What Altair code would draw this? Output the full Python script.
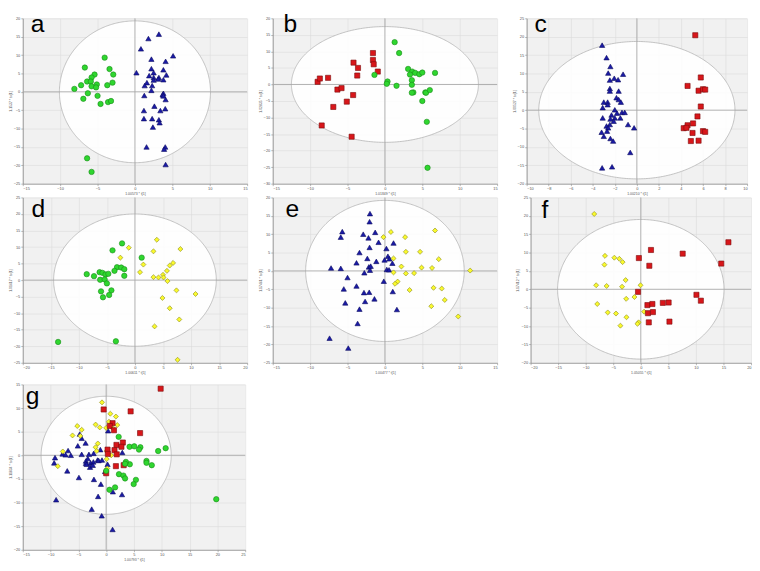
import altair as alt
import pandas as pd
import numpy as np

# ---------------- panel a ----------------
a_green_x = [-4.05, -6.7, -3.4, -5.4, -2.9, -5.8, -6.4, -5.9, -7.2, -5.1, -5.8, -5.2, -3.7, -3.0, -8.1, -6.3, -5.0, -6.9, -4.6, -3.6, -3.2, -6.4, -5.8]
a_green_y = [9.3, 6.6, 6.2, 4.7, 4.7, 3.9, 2.8, 2.8, 1.8, 2.0, 1.5, 1.2, 1.8, 2.5, 0.8, -0.4, -1.1, -1.9, -3.3, -2.8, -2.5, -18.1, -21.8]
a_blue_x = [3.2, 1.8, 0.8, 5.1, 2.2, 4.1, 2.2, 3.8, 0.2, 1.9, 2.5, 4.2, 2.5, 3.2, 3.1, 2.5, 3.8, 1.6, 1.3, 2.3, 2.2, 3.8, 3.7, 1.25, 3.8, 4.1, 2.6, 4.05, 1.2, 3.4, 1.2, 2.3, 3.2, 3.3, 2.4, 1.55, 4.05, 3.9, 4.1]
a_blue_y = [15.7, 14.5, 11.7, 9.8, 8.9, 8.3, 6.3, 6.0, 5.2, 4.4, 5.2, 4.6, 3.9, 3.9, 3.5, 3.2, 3.3, 2.5, 1.7, 1.7, 0.4, -0.4, -0.8, -1.0, -1.1, -2.1, -3.9, -4.6, -5.1, -5.1, -7.3, -7.3, -7.6, -8.4, -9.6, -15.0, -15.0, -15.6, -19.8]

# ---------------- panel b ----------------
b_red_x = [-9.0, -8.7, -7.6, -6.35, -5.8, -6.9, -8.45, -5.1, -4.25, -4.2, -3.6, -3.7, -1.6, -1.6, -1.5, -0.95, -4.45]
b_red_y = [0.8, 1.8, 2.0, -1.55, -1.1, -6.8, -12.4, -5.2, -3.2, 6.6, 5.0, 2.7, 9.5, 7.4, 6.1, 3.9, -15.8]
b_green_x = [1.3, 1.9, -1.4, 0.35, 0.25, 1.55, 3.1, 3.65, 3.35, 4.05, 4.6, 5.0, 6.7, 3.6, 3.6, 3.8, 3.6, 5.4, 5.5, 6.0, 5.0, 5.6, 5.7]
b_green_y = [12.8, 9.5, 2.9, 0.9, 0.2, -0.4, 4.7, 3.9, 3.0, 3.5, 3.1, 3.6, 3.5, 1.3, -0.1, -2.4, -2.5, -2.4, -2.5, -1.7, -5.0, -11.3, -25.2]

# ---------------- panel c ----------------
c_red_x = [5.3, 5.8, 4.6, 5.6, 6.0, 6.2, 5.8, 5.5, 5.1, 4.6, 4.25, 4.5, 5.05, 6.0, 6.2, 4.9, 5.6]
c_red_y = [20.4, 8.9, 6.6, 5.3, 5.7, 5.6, 1.0, -1.7, -3.6, -4.1, -4.9, -4.8, -6.2, -5.7, -5.9, -8.4, -8.3]
c_blue_x = [-3.15, -2.75, -2.4, -2.6, -1.25, -2.05, -1.7, -2.45, -2.45, -2.45, -1.65, -3.0, -2.65, -2.65, -3.1, -1.85, -1.65, -1.45, -2.0, -1.8, -1.35, -1.1, -2.3, -3.1, -1.5, -2.4, -2.0, -2.1, -2.45, -2.75, -2.6, -0.8, -0.25, -3.2, -2.7, -3.0, -2.4, -2.15, -0.6, -3.15, -2.25]
c_blue_y = [17.7, 14.3, 11.9, 10.1, 9.8, 8.7, 8.3, 8.2, 5.9, 5.2, 5.2, 2.2, 2.2, 1.5, 0.7, 3.4, 2.9, 2.2, 0.1, -0.8, -0.6, -0.6, -1.3, -2.1, -2.1, -2.4, -2.1, -3.0, -3.9, -4.3, -4.8, -3.9, -4.8, -6.0, -5.7, -7.1, -7.7, -8.4, -11.5, -15.7, -15.4]

# ---------------- panel d ----------------
d_green_x = [-2.3, -4.0, 1.2, -3.2, -2.45, -1.9, -3.65, -8.6, -7.3, -6.3, -5.8, -5.25, -4.75, -6.2, -5.4, -5.0, -1.9, -6.05, -4.2, -4.6, -5.7, -13.7, -3.4]
d_green_y = [11.1, 9.0, 6.8, 3.9, 3.8, 3.3, 2.8, 1.8, 1.2, 2.4, 2.2, 1.7, 1.9, 0.1, 0.2, -1.0, 1.3, -3.4, -3.1, -4.5, -5.2, -18.7, -18.5]
d_yellow_x = [3.9, -1.1, 3.3, 8.1, -2.6, 1.5, 6.8, 6.2, 0.9, 5.7, 3.3, 4.2, 5.0, 5.1, 5.8, 7.4, 10.8, 4.9, 6.2, 7.9, 3.5, 7.6]
d_yellow_y = [12.2, 9.8, 8.7, 9.4, 6.8, 4.7, 5.2, 4.4, 2.4, 2.8, 0.9, 0.8, 1.6, 0.8, -0.3, -3.1, -4.2, -5.4, -8.5, -11.9, -14.0, -24.1]

# ---------------- panel e ----------------
e_blue_x = [-2.0, -2.05, -5.7, -5.9, -2.9, -1.3, -2.2, -0.85, 1.15, -2.05, -3.4, 0.2, 0.4, 0.6, -0.05, -2.35, -1.15, -3.8, 1.0, -2.15, -1.9, -2.0, 0.25, 0.55, -7.2, -5.9, -2.75, -5.0, -0.15, -3.8, -5.5, -2.8, -2.1, 1.05, -1.4, -2.65, -5.3, -3.4, 1.6, -3.65, -7.4, -4.9]
e_blue_y = [15.6, 13.4, 10.7, 9.2, 10.0, 10.5, 9.0, 7.8, 7.6, 6.4, 5.0, 6.1, 4.0, 3.3, 3.0, 3.4, 2.6, 2.2, 2.1, 1.1, 1.3, 0.2, 0.4, 0.3, 0.8, 0.7, -0.5, -1.8, -2.8, -4.1, -4.9, -5.9, -5.8, -5.6, -7.6, -8.3, -8.7, -10.4, -10.5, -14.3, -18.3, -21.0]
e_yellow_x = [-0.2, 0.8, 2.7, 6.7, 2.8, 1.15, 4.7, 7.2, 2.2, 4.9, 6.3, 11.4, 1.15, 2.8, 3.9, 1.7, 1.35, 3.3, 6.5, 7.6, 8.0, 6.2, 9.8]
e_yellow_y = [9.2, 10.6, 9.2, 11.0, 5.2, 3.4, 5.2, 3.2, 1.2, 0.9, 0.8, 0.1, -0.4, -0.7, -0.6, -2.9, -3.5, -5.2, -4.6, -4.8, -7.9, -9.6, -12.4]

# ---------------- panel f ----------------
f_yellow_x = [-8.45, -6.5, -4.8, -3.9, -3.3, -6.6, -2.75, -8.1, -6.2, -3.4, -0.05, -2.65, -1.15, -7.9, -6.0, -4.5, -2.6, 0.6, -3.7, -0.4, -0.6]
f_yellow_y = [20.5, 9.1, 8.6, 8.3, 7.4, 6.7, 2.5, 1.1, 0.9, 0.7, 1.1, -2.6, -2.1, -4.0, -6.3, -6.6, -7.6, -6.1, -9.9, -9.0, -9.4]
f_red_x = [1.85, 7.6, 15.9, 14.6, -0.35, 1.55, -0.5, 10.1, 10.9, 1.2, 2.1, 4.0, 5.05, 1.3, 2.2, 1.45, 5.2]
f_red_y = [10.7, 9.7, 12.8, 7.0, 8.5, 6.4, -0.7, -1.5, -3.1, -4.3, -4.0, -3.7, -3.6, -6.5, -6.2, -9.0, -8.8]

# ---------------- panel g ----------------
g_red_x = [9.8, -0.45, 4.4, 1.15, 0.65, 1.4, 6.1, 1.85, 3.0, 2.75, 1.5, 1.9, 0.25, 0.3, 1.75, 3.15, 0.0]
g_red_y = [14.1, 9.7, 9.3, 6.8, 6.2, 5.3, 4.7, 2.2, 2.7, 1.8, 1.1, 0.2, 1.2, 0.3, -2.3, -2.1, -3.8]
g_yellow_x = [-0.75, 0.75, 1.75, 0.5, -1.9, -5.2, -1.15, 2.0, 0.0, 1.15, -4.4, -4.65, -6.05, -1.5, -1.9, -1.7, -7.8, 0.1, 0.9, 0.1, -8.7, 0.2]
g_yellow_y = [11.2, 8.8, 8.2, 7.1, 6.5, 6.2, 5.9, 6.4, 5.8, 5.8, 5.4, 4.1, 4.2, 2.5, 1.7, 0.9, 0.8, 0.9, 0.0, -0.8, -2.3, -2.8]
g_green_x = [2.25, 4.2, 5.05, 6.15, 5.9, 9.35, 10.7, 7.25, 7.25, 8.2, 4.25, 3.55, 3.4, 2.3, 3.1, 3.4, 5.35, 4.95, 0.6, 1.6, 19.8, 0.0]
g_green_y = [3.9, 1.8, 1.9, 1.7, 1.2, 0.9, 1.5, -1.2, -1.6, -2.1, -1.9, -1.4, -1.8, -4.0, -4.3, -4.9, -5.2, -6.1, -7.3, -6.8, -9.3, -3.3]
g_blue_x = [0.35, -4.75, -4.4, -3.7, -5.1, -6.85, -9.2, -9.35, -7.85, -7.3, -6.35, -4.4, -3.3, -3.1, -2.25, -1.05, -3.65, -3.65, -3.5, -2.8, -2.3, -1.55, -1.35, -0.75, -2.9, -2.4, 0.25, 2.9, -7.0, -4.9, -2.2, -0.95, 1.2, 2.85, -1.45, -9.0, -2.6, -0.8, 1.15, -0.2]
g_blue_y = [5.2, 4.5, 3.6, 2.6, 2.0, 1.0, -0.5, -1.6, 0.3, 0.1, 0.0, 0.2, -0.7, 0.2, 0.4, 1.2, -1.2, -1.7, -1.9, -1.6, -1.4, -1.0, -1.1, -1.0, -2.5, -2.1, -1.9, 0.6, -3.3, -4.7, -5.1, -6.1, -7.7, -8.3, -8.7, -9.4, -11.4, -12.8, -15.7, -3.4]

# ---------------- group styling (shared by all panels) ----------------
GROUPS = ["green", "blue", "red", "yellow"]
SHAPES = ["circle", "triangle-up", "square", "diamond"]
FILLS = ["#2fd62f", "#1a1aa6", "#d8161a", "#fafa2c"]
STROKES = ["#178a17", "#0b0b5e", "#7a0b0b", "#8a8a1a"]
SIZES = [30, 26, 28, 38]


def panel(letter, groups, xdom, ydom, xstep, ystep, ell, xtitle, ytitle, w, h, lx, ly):
    rows = []
    for gname, (xs, ys) in groups.items():
        for xv, yv in zip(xs, ys):
            rows.append({"x": xv, "y": yv, "grp": gname})
    df = pd.DataFrame(rows)
    xsc = alt.Scale(domain=xdom, nice=False, zero=False)
    ysc = alt.Scale(domain=ydom, nice=False, zero=False)
    xvals = [float(v) for v in np.arange(xdom[0], xdom[1] + 0.001, xstep)]
    yvals = [float(v) for v in np.arange(ydom[0], ydom[1] + 0.001, ystep)]
    xax = alt.Axis(values=xvals, title=xtitle, format="d")
    yax = alt.Axis(values=yvals, title=ytitle, format="d")

    t = np.linspace(0, np.pi, 181)
    edf = pd.DataFrame({"x": ell[0] * np.cos(t), "y": ell[1] * np.sin(t), "y2": -ell[1] * np.sin(t)})
    ellipse = alt.Chart(edf).mark_area(
        fill="white", fillOpacity=0.88, stroke="#b4b4b4", strokeWidth=0.8, orient="vertical"
    ).encode(
        x=alt.X("x:Q", scale=xsc, axis=xax),
        y=alt.Y("y:Q", scale=ysc, axis=yax),
        y2="y2:Q",
    )
    vline = alt.Chart(pd.DataFrame({"v": [0]})).mark_rule(color="#a8a8a8", strokeWidth=0.9).encode(
        x=alt.X("v:Q", scale=xsc, axis=xax)
    )
    hline = alt.Chart(pd.DataFrame({"v": [0]})).mark_rule(color="#a8a8a8", strokeWidth=0.9).encode(
        y=alt.Y("v:Q", scale=ysc, axis=yax)
    )
    pts = alt.Chart(df).mark_point(strokeWidth=0.6, opacity=1, fillOpacity=1).encode(
        x=alt.X("x:Q", scale=xsc, axis=xax),
        y=alt.Y("y:Q", scale=ysc, axis=yax),
        shape=alt.Shape("grp:N", scale=alt.Scale(domain=GROUPS, range=SHAPES), legend=None),
        fill=alt.Fill("grp:N", scale=alt.Scale(domain=GROUPS, range=FILLS), legend=None),
        stroke=alt.Stroke("grp:N", scale=alt.Scale(domain=GROUPS, range=STROKES), legend=None),
        size=alt.Size("grp:N", scale=alt.Scale(domain=GROUPS, range=SIZES), legend=None),
    )
    lab = alt.Chart(pd.DataFrame({"t": [letter]})).mark_text(
        align="left", baseline="alphabetic", fontSize=25, font="Liberation Sans", color="black"
    ).encode(text="t:N", x=alt.value(lx), y=alt.value(ly))
    return alt.layer(ellipse, vline, hline, pts, lab).properties(width=w, height=h)


W, H = 228, 168
pa = panel("a", {"green": (a_green_x, a_green_y), "blue": (a_blue_x, a_blue_y)}, [-15, 15], [-25, 20], 5, 5, (10.1, 19.3), "1.00573 * t[1]", "1.1537 * to[1]", W, H, 8, 14)
pb = panel("b", {"red": (b_red_x, b_red_y), "green": (b_green_x, b_green_y)}, [-15, 15], [-30, 20], 5, 5, (12.5, 17.5), "1.01849 * t[1]", "1.02835 * to[1]", W, H, 11, 14)
pc = panel("c", {"blue": (c_blue_x, c_blue_y), "red": (c_red_x, c_red_y)}, [-10, 10], [-20, 25], 2, 5, (8.9, 18.7), "1.00210 * t[1]", "1.00527 * to[1]", W - 4, H, 8, 14)
pd_ = panel("d", {"green": (d_green_x, d_green_y), "yellow": (d_yellow_x, d_yellow_y)}, [-20, 20], [-25, 25], 5, 5, (14.5, 20.0), "1.00611 * t[1]", "1.01617 * to[1]", W, H, 9, 20)
pe = panel("e", {"blue": (e_blue_x, e_blue_y), "yellow": (e_yellow_x, e_yellow_y)}, [-15, 15], [-25, 20], 5, 5, (10.6, 19.2), "1.00477 * t[1]", "1.17461 * to[1]", W, H, 13, 20)
pf = panel("f", {"yellow": (f_yellow_x, f_yellow_y), "red": (f_red_x, f_red_y)}, [-20, 20], [-20, 25], 5, 5, (15.1, 19.0), "1.05055 * t[1]", "1.17412 * to[1]", W - 4, H, 11, 21)
pg = panel("g", {"blue": (g_blue_x, g_blue_y), "yellow": (g_yellow_x, g_yellow_y), "red": (g_red_x, g_red_y), "green": (g_green_x, g_green_y)}, [-15, 25], [-20, 15], 5, 5, (11.7, 12.5), "1.00793 * t[1]", "1.11834 * to[1]", W - 2, H, 3, 20)

row1 = alt.hconcat(alt.hconcat(pa, pb, spacing=10), pc, spacing=14)
row2 = alt.hconcat(alt.hconcat(pd_, pe, spacing=10), pf, spacing=18)
top = alt.vconcat(row1, row2, spacing=0)
chart = alt.vconcat(top, pg, spacing=8).properties(padding=0).configure_view(
    fill="#f1f1f1", stroke=None
).configure_axis(
    labelFontSize=4, labelColor="#555555", labelFont="Liberation Sans", labelPadding=1,
    tickSize=2, tickColor="#8a8a8a", tickWidth=0.6,
    domainColor="#8a8a8a", domainWidth=0.8,
    titleFontSize=3.5, titleColor="#555555", titleFont="Liberation Sans", titleFontWeight="normal", titlePadding=1,
    gridColor="#dcdcdc", gridWidth=0.6,
).configure_concat(spacing=10)

chart.save("out.html", embed_options={"renderer": "svg", "actions": False})
